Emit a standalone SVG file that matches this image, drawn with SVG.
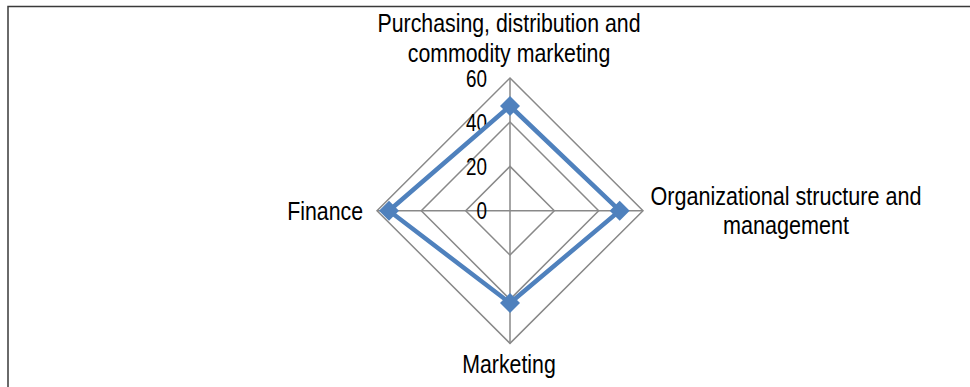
<svg xmlns="http://www.w3.org/2000/svg" width="970" height="387" viewBox="0 0 970 387">
<style>
.grid{fill:none;stroke:#898989;stroke-width:1.5}
.lbl{font-family:"Liberation Sans",Arial,sans-serif;font-size:26px;fill:#000}
.tick{font-family:"Liberation Sans",Arial,sans-serif;font-size:23px;fill:#000;text-anchor:end}
.series{fill:none;stroke:#4F81BD;stroke-width:4.5;stroke-linejoin:miter}
.mk{fill:#4F81BD}
</style>
<defs>
<path id="dm" d="M0,-10 L10,0 L0,10 L-10,0 Z"/>
</defs>
<rect width="970" height="387" fill="#fff"/>
<g id="frame" fill="none" stroke="#3a3a3a" stroke-width="1.5">
<path d="M8,387 V6.5 H970"/>
</g>
<g id="grid">
<polygon class="grid" points="510,78 643,210.7 510,343.4 377,210.7"/>
<polygon class="grid" points="510,122 598.7,210.7 510,299.4 421.3,210.7"/>
<polygon class="grid" points="510,166.4 554.3,210.7 510,255 465.7,210.7"/>
<path class="grid" d="M510,78 V343.4 M377,210.7 H643"/>
</g>
<g id="axis-ticks">
<g transform="translate(487,87) scale(0.82,1)"><text class="tick" x="0" y="0">60</text></g>
<g transform="translate(487,131) scale(0.82,1)"><text class="tick" x="0" y="0">40</text></g>
<g transform="translate(487,175) scale(0.82,1)"><text class="tick" x="0" y="0">20</text></g>
<g transform="translate(487,219) scale(0.82,1)"><text class="tick" x="0" y="0">0</text></g>
</g>
<g id="series">
<polygon class="series" points="510,106 619.7,210.7 510,303 389,210.7"/>
<use href="#dm" class="mk" x="510" y="106"/>
<use href="#dm" class="mk" x="619.7" y="210.7"/>
<use href="#dm" class="mk" x="510" y="303"/>
<use href="#dm" class="mk" x="389" y="210.7"/>
</g>
<g id="label-purchasing" transform="translate(509,32) scale(0.82,1)">
<text class="lbl" text-anchor="middle" x="0" y="0">Purchasing, distribution and</text>
<text class="lbl" text-anchor="middle" x="0" y="30">commodity marketing</text>
</g>
<g id="label-organizational" transform="translate(786,205) scale(0.83,1)">
<text class="lbl" text-anchor="middle" x="0" y="0">Organizational structure and</text>
<text class="lbl" text-anchor="middle" x="0" y="29">management</text>
</g>
<g id="label-marketing" transform="translate(509,373) scale(0.82,1)">
<text class="lbl" text-anchor="middle" x="0" y="0">Marketing</text>
</g>
<g id="label-finance" transform="translate(363,220) scale(0.82,1)">
<text class="lbl" text-anchor="end" x="0" y="0">Finance</text>
</g>
</svg>
